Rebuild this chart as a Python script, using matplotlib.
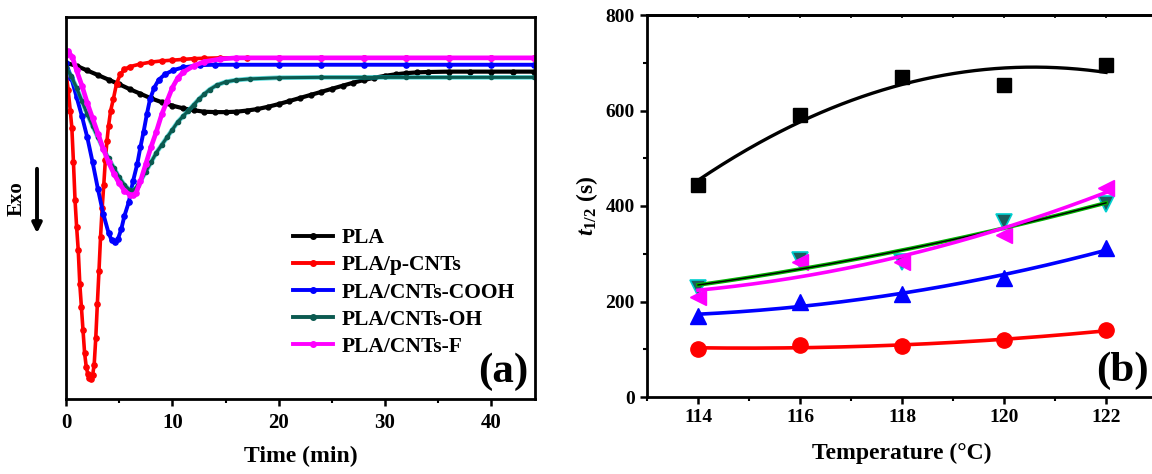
import numpy as np
import matplotlib
matplotlib.use('Agg')
import matplotlib.pyplot as plt

plt.rcParams['font.family'] = ['Liberation Serif', 'DejaVu Serif']
plt.rcParams['font.weight'] = 'bold'
plt.rcParams['axes.labelweight'] = 'bold'
plt.rcParams['mathtext.fontset'] = 'custom'
plt.rcParams['mathtext.rm'] = 'Liberation Serif:bold'
plt.rcParams['mathtext.it'] = 'Liberation Serif:italic:bold'
plt.rcParams['mathtext.bf'] = 'Liberation Serif:bold'

# (a) isothermal DSC curves, heat flow in arbitrary units
t_pla = [0, 1, 2, 3, 4, 5, 6, 7, 8, 9, 10, 11, 12, 13, 14, 15, 16, 17, 18, 19, 20, 21, 22,
         23, 24, 25, 26, 27, 28, 29, 30, 31, 32, 33, 34, 36, 38, 40, 42, 44]
hf_pla = [8.80, 8.72, 8.60, 8.48, 8.36, 8.24, 8.11, 7.99, 7.87, 7.77, 7.68, 7.61, 7.56, 7.52,
          7.51, 7.51, 7.52, 7.55, 7.59, 7.65, 7.72, 7.80, 7.88, 7.96, 8.04, 8.12, 8.20, 8.28,
          8.35, 8.41, 8.46, 8.50, 8.53, 8.55, 8.56, 8.57, 8.57, 8.57, 8.57, 8.57]

t_red = [0, 0.2, 0.4, 0.55, 0.7, 0.85, 1.0, 1.15, 1.3, 1.45, 1.6, 1.75, 1.9, 2.05, 2.2, 2.35,
         2.5, 2.65, 2.8, 2.95, 3.1, 3.25, 3.4, 3.55, 3.7, 3.85, 4.0, 4.2, 4.45, 4.75, 5.1, 5.5,
         6.0, 7, 8, 9, 10, 11, 12, 13, 14.5, 17, 20, 24, 28, 32, 36, 40, 44]
hf_red = [8.55, 8.10, 7.55, 7.10, 6.20, 5.20, 4.50, 3.90, 3.00, 2.40, 1.80, 1.20, 0.85, 0.65,
          0.55, 0.52, 0.62, 0.90, 1.60, 2.50, 3.35, 4.25, 5.00, 5.60, 6.25, 6.75, 7.15, 7.55,
          7.85, 8.25, 8.50, 8.63, 8.70, 8.77, 8.82, 8.85, 8.87, 8.89, 8.91, 8.92, 8.93, 8.93,
          8.93, 8.93, 8.93, 8.93, 8.93, 8.93, 8.93]

t_cooh = [0, 0.5, 1.0, 1.5, 2.0, 2.5, 3.0, 3.5, 4.0, 4.3, 4.6, 4.9, 5.2, 5.5, 5.9, 6.3, 6.7,
          7.0, 7.3, 7.6, 7.9, 8.3, 8.7, 9.3, 10.1, 11, 12.6, 14, 16, 20, 24, 28, 32, 36, 40, 44]
hf_cooh = [8.80, 8.40, 7.90, 7.40, 6.85, 6.20, 5.50, 4.85, 4.35, 4.15, 4.10, 4.20, 4.45, 4.80,
           5.15, 5.70, 6.15, 6.60, 7.00, 7.45, 7.85, 8.15, 8.35, 8.50, 8.61, 8.68, 8.74, 8.75,
           8.75, 8.75, 8.75, 8.75, 8.75, 8.75, 8.75, 8.75]

t_oh = [0, 0.5, 1.0, 1.5, 2.0, 2.5, 3.0, 3.5, 4.0, 4.5, 5.0, 5.5, 6.0, 6.3, 6.8, 7.5, 8.0, 8.5,
        9.0, 9.5, 10.0, 10.5, 11, 11.5, 12, 12.5, 13, 13.5, 14.2, 15, 16, 17.3, 20, 24, 28, 32,
        36, 40, 44]
hf_oh = [8.68, 8.45, 8.15, 7.80, 7.45, 7.15, 6.85, 6.55, 6.30, 6.05, 5.80, 5.60, 5.47, 5.45,
         5.60, 5.95, 6.20, 6.45, 6.65, 6.85, 7.05, 7.25, 7.40, 7.55, 7.70, 7.85, 7.98, 8.10,
         8.22, 8.30, 8.35, 8.38, 8.41, 8.42, 8.42, 8.42, 8.42, 8.42, 8.42]

t_f = [0, 0.2, 0.6, 1.0, 1.5, 2.0, 2.5, 3.0, 3.5, 4.0, 4.5, 5.0, 5.5, 6.0, 6.3, 6.6, 7.0, 7.5,
       8.0, 8.5, 9.0, 9.5, 10.0, 10.5, 11, 12, 13, 14.5, 16, 20, 24, 28, 32, 36, 40, 44]
hf_f = [9.00, 9.10, 8.95, 8.60, 8.20, 7.75, 7.35, 6.95, 6.55, 6.20, 5.90, 5.65, 5.45, 5.35,
        5.33, 5.40, 5.70, 6.15, 6.60, 7.00, 7.45, 7.80, 8.15, 8.40, 8.55, 8.72, 8.83, 8.90,
        8.93, 8.93, 8.93, 8.93, 8.93, 8.93, 8.93, 8.93]

# (b) half crystallization time vs temperature
temps = [114, 116, 118, 120, 122]
th_pla = [444, 590, 671, 653, 695]
th_pcnt = [101, 108, 107, 119, 140]
th_cooh = [169, 199, 215, 250, 311]
th_oh = [229, 287, 283, 367, 404]
th_f = [210, 283, 283, 339, 438]

labels = ['PLA', 'PLA/p-CNTs', 'PLA/CNTs-COOH', 'PLA/CNTs-OH', 'PLA/CNTs-F']

fig = plt.figure(figsize=(11.52, 4.74), dpi=100)
ax1 = fig.add_axes([66/1152, 75/474, 469/1152, 382/474])
ax2 = fig.add_axes([647/1152, 77/474, 510/1152, 382/474])

# ---- panel (a)
ax1.plot(t_pla, hf_pla, color='black', lw=3.0, marker='o', ms=3.5, label=labels[0])
ax1.plot(t_red, hf_red, color='#ff0000', lw=2.6, marker='o', ms=3.8, label=labels[1])
ax1.plot(t_cooh, hf_cooh, color='#0000ff', lw=2.8, marker='o', ms=3.8, label=labels[2])
ax1.plot(t_oh, hf_oh, color='#00c8c8', lw=3.4, alpha=0.6)
ax1.plot(t_oh, hf_oh, color='#0b5a50', lw=2.2, marker='o', ms=3, label=labels[3])
ax1.plot(t_f, hf_f, color='#ff00ff', lw=3.4, marker='o', ms=3.8, label=labels[4])

ax1.set_xlim(0, 44.1)
ax1.set_ylim(0, 10)
ax1.set_yticks([])
ax1.set_xticks([0, 10, 20, 30, 40])
ax1.set_xticks([5, 15, 25, 35], minor=True)
ax1.tick_params(axis='x', which='major', direction='out', length=5, width=1.8, labelsize=15, pad=5)
ax1.tick_params(axis='x', which='minor', direction='out', length=3, width=1.5)
for s in ax1.spines.values():
    s.set_linewidth(2.0)
ax1.set_xlabel('Time (min)', fontsize=17, labelpad=9)

leg = ax1.legend(loc='upper left', bbox_to_anchor=(0.484, 0.447), frameon=False, fontsize=15.5,
                 handlelength=1.85, handletextpad=0.4, labelspacing=0.33, borderpad=0,
                 borderaxespad=0, numpoints=1)
for line in leg.get_lines():
    line.set_linewidth(2.8)
    line.set_markersize(4)

ax1.text(0.985, 0.02, '(a)', transform=ax1.transAxes, ha='right', va='bottom',
         fontsize=31, fontweight='bold')

fig.text(17/1152, 1 - 199/474, 'Exo', rotation=90, ha='center', va='center',
         fontsize=15, fontweight='bold')
ax1.annotate('', xy=(37/1152, 1 - 236/474), xytext=(37/1152, 1 - 166/474),
             xycoords='figure fraction', textcoords='figure fraction',
             arrowprops=dict(arrowstyle='-|>', lw=2.8, color='black', mutation_scale=14),
             annotation_clip=False)

# ---- panel (b)
tt = np.linspace(114, 122, 200)
fit_pla = np.polyval(np.polyfit(temps, th_pla, 2), tt)
fit_pcnt = np.polyval(np.polyfit(temps, th_pcnt, 2), tt)
fit_cooh = np.polyval(np.polyfit(temps, th_cooh, 2), tt)
fit_oh = np.polyval(np.polyfit(temps, th_oh, 2), tt)
fit_f = np.polyval(np.polyfit(temps, th_f, 2), tt)

ax2.plot(temps, th_pla, 's', color='black', ms=10, ls='none')
ax2.plot(temps, th_pcnt, 'o', color='#ff0000', ms=11, ls='none')
ax2.plot(temps, th_cooh, '^', color='#0000ff', ms=11, ls='none')
ax2.plot(temps, th_oh, 'v', mfc='#1b5c5c', mec='#00d0d0', mew=1.2, ms=11, ls='none')
ax2.plot(temps, th_f, '<', color='#ff00ff', ms=11, ls='none')

ax2.plot(tt, fit_pla, color='black', lw=2.4)
ax2.plot(tt, fit_pcnt, color='#ff0000', lw=2.6)
ax2.plot(tt, fit_cooh, color='#0000ff', lw=2.6)
ax2.plot(tt, fit_oh, color='#00b000', lw=2.8)
ax2.plot(tt, fit_oh, color='black', lw=1.0)
ax2.plot(tt, fit_f, color='#ff00ff', lw=2.6)

ax2.set_xlim(113, 123)
ax2.set_ylim(0, 800)
ax2.set_xticks([114, 116, 118, 120, 122])
ax2.set_xticks([113, 115, 117, 119, 121, 123], minor=True)
ax2.set_yticks([0, 200, 400, 600, 800])
ax2.set_yticks([100, 300, 500, 700], minor=True)
ax2.tick_params(which='major', direction='out', length=5, width=1.8, labelsize=14, pad=4)
ax2.tick_params(which='minor', direction='out', length=3, width=1.5)
for s in ax2.spines.values():
    s.set_linewidth(2.0)

# small inward ticks along the top spine
top = ax2.secondary_xaxis('top')
top.set_xticks([114, 115, 116, 117, 118, 119, 120, 121, 122])
top.tick_params(direction='in', length=2.5, width=1.2, labeltop=False)
top.spines['top'].set_linewidth(2.0)

ax2.set_xlabel('Temperature (°C)', fontsize=17, labelpad=12)
ax2.set_ylabel(r'$t_{1/2}$ (s)', fontsize=17, labelpad=4)

ax2.text(0.88, 0.018, '(b)', transform=ax2.transAxes, ha='left', va='bottom',
         fontsize=31, fontweight='bold')

fig.savefig('out.png', dpi=100)
